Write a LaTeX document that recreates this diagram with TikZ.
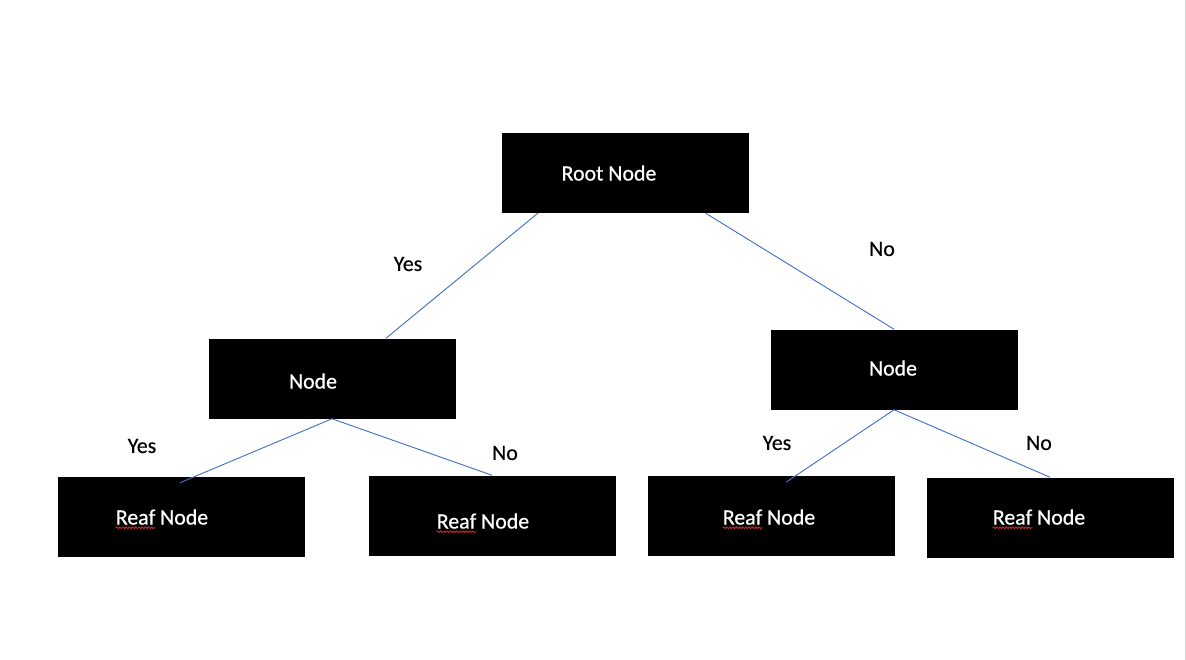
\documentclass[tikz,border=0pt]{standalone}
\usepackage{fontspec}
\setmainfont{Carlito}
\newfontfamily\heavyfont[FakeBold=0.6]{Carlito}
\newfontfamily\midfont[FakeBold=0.3]{Carlito}
\usetikzlibrary{decorations.pathmorphing}
\definecolor{linkblue}{HTML}{4472C4}
\definecolor{edgegray}{HTML}{D4D4D4}
\definecolor{squigred}{HTML}{E0202A}
\begin{document}
\begin{tikzpicture}[x=0.75pt,y=-0.75pt,
  box/.style={fill=black,draw=none,minimum width=185.25pt,minimum height=60pt,inner sep=0pt},
  boxtext/.style={text=white,font=\heavyfont\fontsize{16.4}{20}\selectfont,inner sep=0pt},
  lbl/.style={text=black,font=\midfont\fontsize{16.4}{20}\selectfont,inner sep=0pt},
  link/.style={draw=linkblue,line width=0.7pt},
  squig/.style={draw=squigred,line width=0.65pt,decorate,decoration={snake,amplitude=0.6pt,segment length=2.4pt}}]
\useasboundingbox[fill=white] (0,0) rectangle (1186,660);
\draw[edgegray,line width=0.9pt] (1185.4,0) -- (1185.4,660);

% boxes
\node[box] (root)  at (625.5,173) {};
\node[box] (left)  at (332,378.5) {};
\node[box] (right) at (894,369.5) {};
\node[box] (leafa) at (181,517) {};
\node[box] (leafb) at (492,515.5) {};
\node[box] (leafc) at (771,515.5) {};
\node[box] (leafd) at (1050,517.5) {};

% connectors
\draw[link] ([shift={(36,0)}]root.south west) -- ([shift={(54,0)}]left.north);
\draw[link] ([shift={(204,0)}]root.south west) -- (right.north);
\draw[link] (left.south) -- ([shift={(-1,6)}]leafa.north);
\draw[link] (left.south) -- (leafb.north);
\draw[link] (right.south) -- ([shift={(15,7)}]leafc.north);
\draw[link] (right.south) -- (leafd.north);

% box texts
\node[boxtext] (troot)  at (609,173) {Root Node};
\node[boxtext] (tleft)  at (313,381) {Node};
\node[boxtext] (tright) at (893,368) {Node};
\node[boxtext] (ta) at (162,517) {Reaf Node};
\node[boxtext] (tb) at (483,521) {Reaf Node};
\node[boxtext] (tc) at (769,517) {Reaf Node};
\node[boxtext] (td) at (1039,517) {Reaf Node};

% spell-check squiggles
\foreach \t in {ta,tb,tc,td}
  \draw[squig] ([yshift=-2.4pt]\t.base west) -- ++(40,0);

% edge labels
\node[lbl] (y1) at (408,264) {Yes};
\node[lbl] (n1) at (882,249) {No};
\node[lbl] (y2) at (142,446) {Yes};
\node[lbl] (n2) at (505,453) {No};
\node[lbl] (y3) at (777,443) {Yes};
\node[lbl] (n3) at (1039,443) {No};
\end{tikzpicture}
\end{document}
